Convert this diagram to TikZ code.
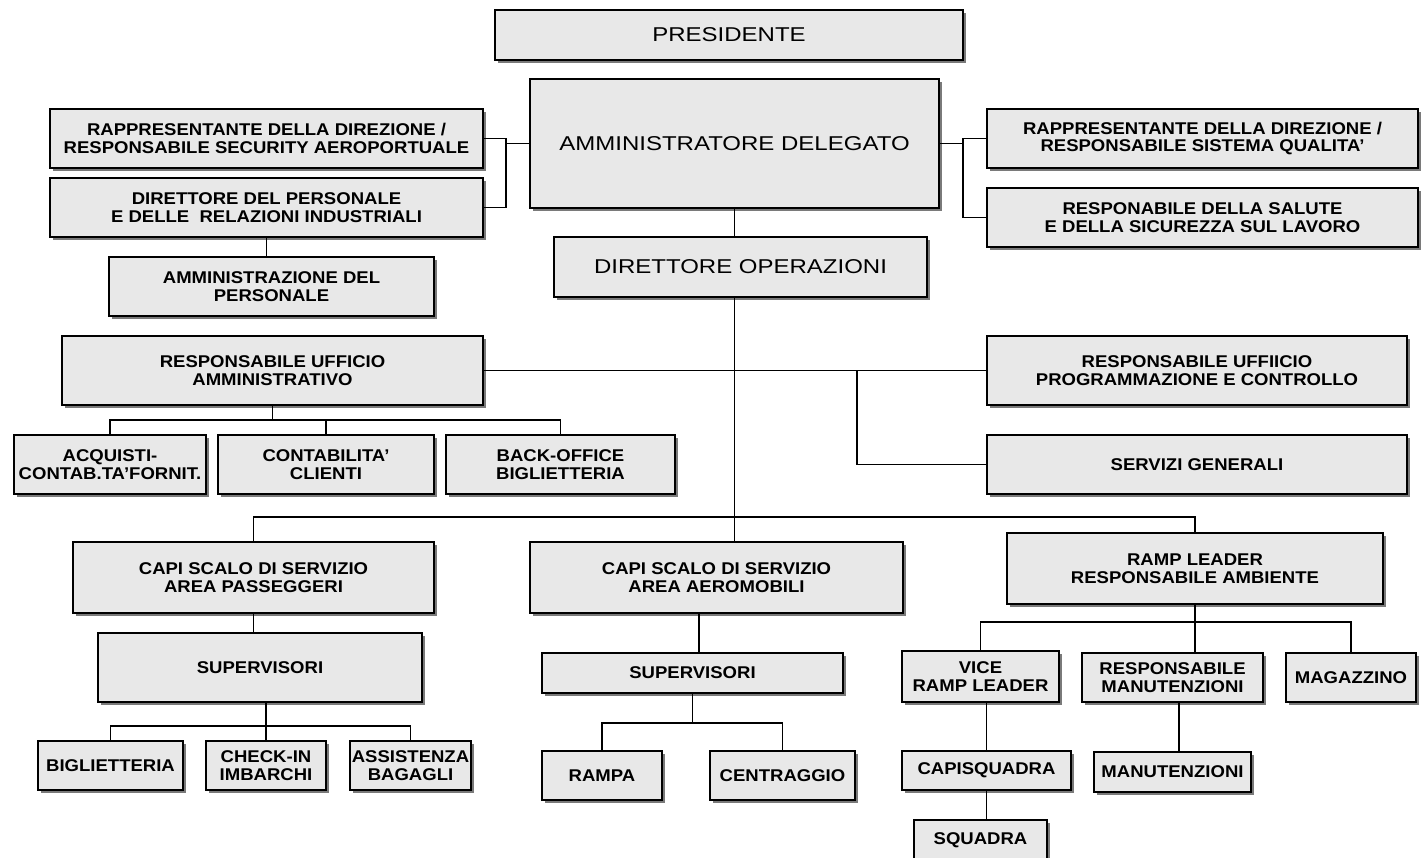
\documentclass[tikz,border=0pt]{standalone}
\usepackage{fontspec}
\usetikzlibrary{shadows}
\newfontfamily\bsans[FakeStretch=1.09]{Liberation Sans}
\newfontfamily\rsans[FakeStretch=1.2]{Liberation Sans}
\definecolor{boxfill}{HTML}{E8E8E8}
\definecolor{shade}{HTML}{7A7A7A}
\begin{document}
\begin{tikzpicture}[x=1pt,y=-1pt,
  box/.style={draw=black, line width=1.5pt, fill=boxfill, inner sep=0pt, align=center,
    drop shadow={shadow xshift=3pt, shadow yshift=-3pt, opacity=1, fill=shade},
    font=\bsans\bfseries\fontsize{17}{17.5}\selectfont},
  big/.style={box, font=\rsans\fontsize{20}{22}\selectfont},
  sz/.style 2 args={minimum width=#1pt, minimum height=#2pt},
  link/.style={line width=1.3pt, draw=black}]
\useasboundingbox (0,0) rectangle (1421,858);

% top
\node[big, sz={468}{50}] (pres) at (729,35) {PRESIDENTE};
\node[big, sz={409}{129}] (ad) at (734.5,143.5) {AMMINISTRATORE DELEGATO};
\node[box, sz={433}{59}] (rapL) at (266.5,138.5) {RAPPRESENTANTE DELLA DIREZIONE /\\RESPONSABILE SECURITY AEROPORTUALE};
\node[box, sz={433}{59}] (dirpers) at (266.5,207.5) {DIRETTORE DEL PERSONALE\\E DELLE\ \ RELAZIONI INDUSTRIALI};
\node[box, sz={325}{59}] (ammpers) at (271.5,286.5) {AMMINISTRAZIONE DEL\\PERSONALE};
\node[big, sz={373}{60}] (dirop) at (740.5,267) {DIRETTORE OPERAZIONI};
\node[box, sz={431}{59}] (rapR) at (1202.5,138.5) {RAPPRESENTANTE DELLA DIREZIONE /\\RESPONSABILE SISTEMA QUALITA’};
\node[box, sz={431}{59}] (salute) at (1202.5,217.5) {RESPONABILE DELLA SALUTE\\E DELLA SICUREZZA SUL LAVORO};

% middle
\node[box, sz={421}{69}] (rua) at (272.5,370.5) {RESPONSABILE UFFICIO\\AMMINISTRATIVO};
\node[box, sz={420}{69}] (prog) at (1197,370.5) {RESPONSABILE UFFIICIO\\PROGRAMMAZIONE E CONTROLLO};
\node[box, sz={420}{59}] (servgen) at (1197,464.5) {SERVIZI GENERALI};
\node[box, sz={192}{59}] (acq) at (110,464.5) {ACQUISTI-\\CONTAB.TA’FORNIT.};
\node[box, sz={216}{59}] (cont) at (326,464.5) {CONTABILITA’\\CLIENTI};
\node[box, sz={229}{59}] (back) at (560.5,464.5) {BACK-OFFICE\\BIGLIETTERIA};

% lower
\node[box, sz={361}{71}] (capiP) at (253.5,577.5) {CAPI SCALO DI SERVIZIO\\AREA PASSEGGERI};
\node[box, sz={373}{71}] (capiA) at (716.5,577.5) {CAPI SCALO DI SERVIZIO\\AREA AEROMOBILI};
\node[box, sz={376}{71}] (ramp) at (1195,568.5) {RAMP LEADER\\RESPONSABILE AMBIENTE};
\node[box, sz={324}{69}] (supL) at (260,667.5) {SUPERVISORI};
\node[box, sz={301}{40}] (supM) at (692.5,673) {SUPERVISORI};
\node[box, sz={157}{51}] (vice) at (980.5,676.5) {VICE\\RAMP LEADER};
\node[box, sz={181}{49}] (respman) at (1172.5,677.5) {RESPONSABILE\\MANUTENZIONI};
\node[box, sz={130}{49}] (magaz) at (1351,677.5) {MAGAZZINO};
\node[box, sz={145}{49}] (bigl) at (110.5,765.5) {BIGLIETTERIA};
\node[box, sz={120}{49}] (check) at (266,765.5) {CHECK-IN\\IMBARCHI};
\node[box, sz={121}{49}] (assist) at (410.5,765.5) {ASSISTENZA\\BAGAGLI};
\node[box, sz={120}{49}] (rampa) at (602,775.5) {RAMPA};
\node[box, sz={145}{49}] (centr) at (782.5,775.5) {CENTRAGGIO};
\node[box, sz={169}{39}] (capisq) at (986.5,770.5) {CAPISQUADRA};
\node[box, sz={157}{40}] (manut) at (1172.5,772) {MANUTENZIONI};
\node[box, sz={133}{40}] (squadra) at (980.5,840) {SQUADRA};

% connectors
\coordinate (jL) at (506,143.5);
\draw[link] (ad.west) -- (jL);
\draw[link] (rapL.east) -| (jL) |- (dirpers.east);
\coordinate (jR) at (963,143.5);
\draw[link] (ad.east) -- (jR);
\draw[link] (rapR.west) -| (jR) |- (salute.west);
\draw[link] (dirpers.south) -- (dirpers.south |- ammpers.north);
\draw[link] (ad.south) -- (ad.south |- dirop.north);
\draw[link] (ad.south |- dirop.south) -- (ad.south |- capiA.north);
\draw[link] (rua.east) -- (prog.west);
\coordinate (jP) at (857,370.5);
\draw[link] (jP) |- (servgen.west);
\coordinate (hA) at (272.5,420);
\draw[link] (rua.south) -- (hA);
\draw[link] (acq.north) |- (hA) -| (back.north);
\draw[link] (cont.north) -- (cont.north |- hA);
\coordinate (hB) at (734.5,517);
\draw[link] (capiP.north) |- (hB) -| (ramp.north);
\draw[link] (capiP.south) -- (capiP.south |- supL.north);
\coordinate (hC) at (266,726);
\draw[link] (check.north |- supL.south) -- (hC);
\draw[link] (bigl.north) |- (hC) -| (assist.north);
\draw[link] (hC) -- (check.north);
\coordinate (sMn) at ([xshift=6.5pt]supM.north);
\draw[link] (sMn |- capiA.south) -- (sMn);
\coordinate (hD) at (692.5,723);
\draw[link] (supM.south) -- (hD);
\draw[link] (rampa.north) |- (hD) -| (centr.north);
\coordinate (hE) at (1195,622);
\draw[link] (ramp.south) -- (hE);
\draw[link] (vice.north) |- (hE) -| (magaz.north);
\draw[link] (hE) -- (hE |- respman.north);
\draw[link] (capisq.north |- vice.south) -- (capisq.north);
\draw[link] (capisq.south) -- (capisq.south |- squadra.north);
\coordinate (rmS) at ([xshift=6.5pt]respman.south);
\draw[link] (rmS) -- (rmS |- manut.north);
\end{tikzpicture}
\end{document}
